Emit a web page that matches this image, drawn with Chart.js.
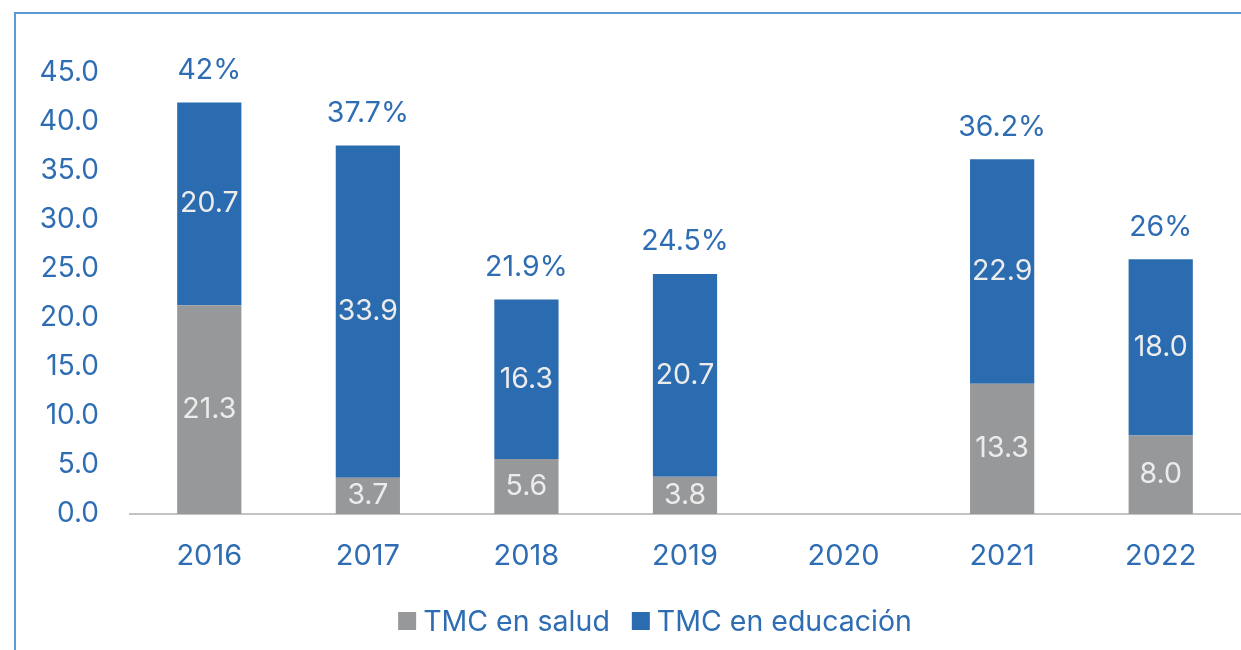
<!DOCTYPE html>
<html>
<head>
<meta charset="utf-8">
<script src="https://cdn.jsdelivr.net/npm/chart.js@4.4.1/dist/chart.umd.min.js"></script>
<style>
    html, body { margin: 0; padding: 0; background: #fff; }
    body { width: 1241px; height: 650px; position: relative; overflow: hidden; }
    .frame {
        position: absolute; left: 14px; top: 12px; right: -10px; bottom: -10px;
        border-left: 2px solid #5b9bd5; border-top: 2px solid #5b9bd5;
    }
    #chart { position: absolute; left: 0; top: 0; }
</style>
</head>
<body>
<div class="frame"></div>
<canvas id="chart" width="1241" height="650"></canvas>
<script>
// Data
const years = ['2016', '2017', '2018', '2019', '2020', '2021', '2022'];
const salud = [21.3, 3.7, 5.6, 3.8, null, 13.3, 8.0];
const educacion = [20.7, 33.9, 16.3, 20.7, null, 22.9, 18.0];
const totals = [42, 37.7, 21.9, 24.5, null, 36.2, 26];

const blue = '#2b6cb0';
const gray = '#97989a';
const textBlue = '#2e6db3';
const font = 'Inter, "Noto Sans", sans-serif';

// Draws the values inside the bars and the totals on top
const barLabels = {
    id: 'barLabels',
    afterDatasetsDraw(chart) {
        const ctx = chart.ctx;
        ctx.save();
        ctx.font = '28.5px ' + font;
        ctx.textAlign = 'center';
        ctx.textBaseline = 'middle';
        chart.data.datasets.forEach((ds, di) => {
            const meta = chart.getDatasetMeta(di);
            meta.data.forEach((bar, i) => {
                if (ds.data[i] == null) return;
                ctx.fillStyle = '#ececec';
                ctx.fillText(ds.data[i].toFixed(1), bar.x, (bar.y + bar.base) / 2);
            });
        });
        const top = chart.getDatasetMeta(1);
        top.data.forEach((bar, i) => {
            if (totals[i] == null) return;
            ctx.fillStyle = textBlue;
            ctx.fillText(totals[i] + '%', bar.x, bar.y - 32);
        });
        ctx.restore();
    }
};

// Legend drawn by hand so the box/text spacing matches the original
const bottomLegend = {
    id: 'bottomLegend',
    afterDraw(chart) {
        const ctx = chart.ctx;
        const box = 18, gap = 7, itemGap = 22, cy = 621, cx = 655;
        ctx.save();
        ctx.font = '28.5px ' + font;
        ctx.textBaseline = 'middle';
        const items = chart.data.datasets.map(ds => ({
            text: ds.label, color: ds.backgroundColor, w: ctx.measureText(ds.label).width
        }));
        const total = items.reduce((s, it) => s + box + gap + it.w, 0) + itemGap * (items.length - 1);
        let x = cx - total / 2;
        items.forEach(it => {
            ctx.fillStyle = it.color;
            ctx.fillRect(x, cy - box / 2, box, box);
            x += box + gap;
            ctx.fillStyle = textBlue;
            ctx.fillText(it.text, x, cy + 1);
            x += it.w + itemGap;
        });
        ctx.restore();
    }
};

new Chart(document.getElementById('chart'), {
    type: 'bar',
    data: {
        labels: years,
        datasets: [
            { label: 'TMC en salud', data: salud, backgroundColor: gray },
            { label: 'TMC en educación', data: educacion, backgroundColor: blue }
        ]
    },
    options: {
        responsive: false,
        animation: false,
        layout: { padding: { top: 73, right: 1, left: 0, bottom: 76 } },
        datasets: { bar: { categoryPercentage: 1, barPercentage: 0.405 } },
        plugins: {
            tooltip: { enabled: false },
            legend: { display: false }
        },
        scales: {
            x: {
                stacked: true,
                grid: { display: false, drawTicks: false },
                border: { color: '#c3c3c3', width: 2 },
                afterFit(scale) { scale.height = 60; },
                ticks: { color: textBlue, font: { family: font, size: 29 }, padding: 25 }
            },
            y: {
                stacked: true,
                min: 0,
                max: 45,
                grid: { display: false, drawTicks: false },
                border: { display: false },
                afterFit(scale) { scale.width = 130; },
                ticks: {
                    stepSize: 5,
                    color: textBlue,
                    font: { family: font, size: 28 },
                    padding: 31,
                    callback: (v) => v.toFixed(1)
                }
            }
        }
    },
    plugins: [barLabels, bottomLegend]
});
</script>
</body>
</html>
